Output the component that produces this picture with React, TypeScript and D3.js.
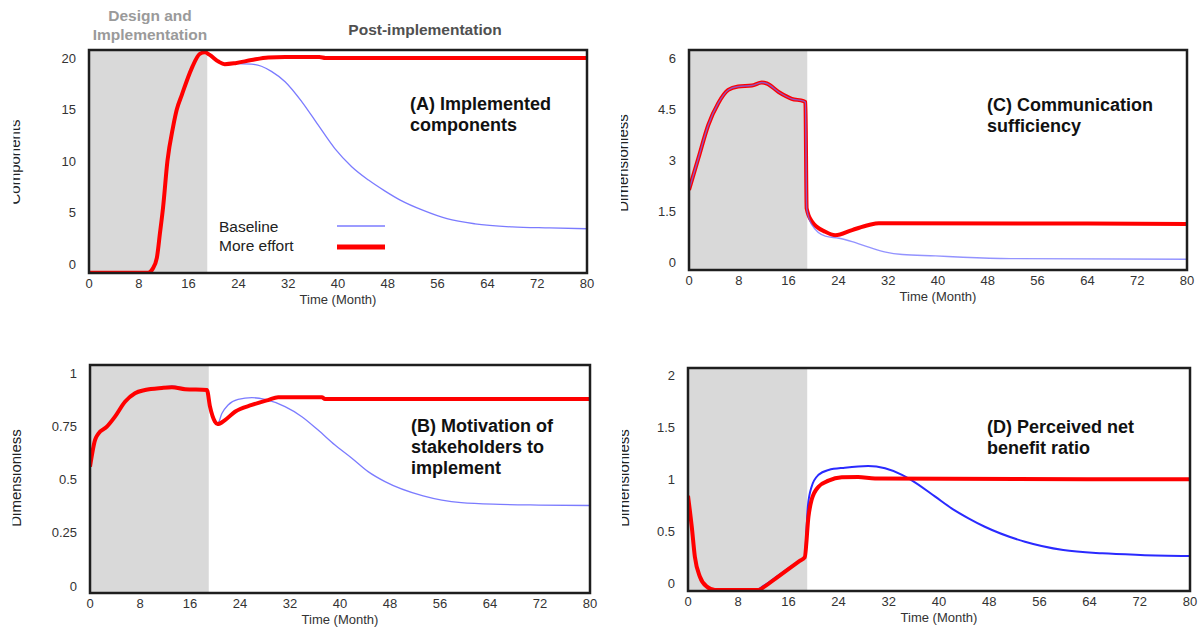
import { useEffect, useRef } from 'react';
import * as d3 from 'd3';

type Pt = [number, number];

// shared x axis
const monthTicks = [0, 8, 16, 24, 32, 40, 48, 56, 64, 72, 80];
const implementationEnd = 19;

// y tick labels per panel
const aTicks = [0, 5, 10, 15, 20];
const bTicks = [0, 0.25, 0.5, 0.75, 1];
const cTicks = [0, 1.5, 3, 4.5, 6];
const dTicks = [0, 0.5, 1, 1.5, 2];

// (A) Implemented components
const aMoreEffort: Pt[] = [
  [0, -0.85], [9.5, -0.85], [10.2, -0.5], [10.9, 0.6], [11.4, 3.0], [11.9, 5.5], [12.6, 10.0],
  [13.5, 13.3], [14.1, 15.0], [14.9, 16.4], [16.5, 19.0], [17.8, 20.4], [18.6, 20.55], [19.4, 20.3],
  [20.8, 19.65], [21.8, 19.4], [23.5, 19.5], [26.1, 19.8], [28.8, 20.05], [31.5, 20.1], [37, 20.1],
  [38, 20.0], [80, 20.0],
];
const aBaseline: Pt[] = [
  [0, -0.85], [9.5, -0.85], [10.2, -0.5], [10.9, 0.6], [11.4, 3.0], [11.9, 5.5], [12.6, 10.0],
  [13.5, 13.3], [14.1, 15.0], [14.9, 16.4], [16.5, 19.0], [17.8, 20.4], [18.6, 20.55], [19.4, 20.3],
  [20.8, 19.65], [21.8, 19.4], [23.5, 19.45], [26.1, 19.4], [27.7, 19.2], [29.3, 18.7], [31.5, 17.7],
  [34.2, 15.75], [36.8, 13.5], [39.5, 11.2], [42.2, 9.45], [44.9, 8.15], [47.5, 7.1], [50, 6.2],
  [53.7, 5.2], [57.5, 4.4], [62, 3.9], [68, 3.6], [74, 3.5], [80, 3.42],
];

// (B) Motivation of stakeholders to implement
const bMoreEffort: Pt[] = [
  [0, 0.56], [0.8, 0.685], [1.3, 0.714], [2.7, 0.748], [4.0, 0.795], [5.6, 0.865], [7.2, 0.905],
  [8.8, 0.92], [11.5, 0.93], [13.1, 0.933], [15.2, 0.924], [18.7, 0.92], [19.2, 0.842], [20.0, 0.771],
  [20.4, 0.76], [21.6, 0.779], [23.2, 0.818], [25.9, 0.85], [28.5, 0.873], [30.1, 0.886], [37.1, 0.886],
  [37.6, 0.878], [80, 0.878],
];
const bBaseline: Pt[] = [
  [0, 0.56], [0.8, 0.685], [1.3, 0.714], [2.7, 0.748], [4.0, 0.795], [5.6, 0.865], [7.2, 0.905],
  [8.8, 0.922], [11.5, 0.932], [13.1, 0.94], [15.2, 0.928], [18.7, 0.92], [19.2, 0.842], [20.0, 0.771],
  [20.4, 0.76], [21.1, 0.81], [22.1, 0.85], [23.7, 0.876], [25.9, 0.884], [28, 0.876], [31.2, 0.842],
  [33.9, 0.795], [36.5, 0.732], [39.2, 0.662], [41.9, 0.6], [44.5, 0.537], [47.2, 0.49], [53.3, 0.423],
  [59.4, 0.391], [65.6, 0.383], [71.8, 0.38], [80, 0.378],
];

// (C) Communication sufficiency
const cMoreEffort: Pt[] = [
  [0, 2.12], [1.5, 3.05], [3.1, 4.03], [4.7, 4.67], [6.3, 5.06], [7.9, 5.16], [10.1, 5.19],
  [11.7, 5.28], [12.5, 5.25], [14.4, 5.0], [16.5, 4.8], [18.4, 4.73], [18.7, 4.7], [18.9, 1.58],
  [19.75, 1.19], [21.9, 0.89], [23.5, 0.79], [26.2, 0.94], [28.9, 1.09], [30.5, 1.14], [80, 1.12],
];
const cBaseline: Pt[] = [
  [0, 2.12], [1.5, 3.05], [3.1, 4.03], [4.7, 4.67], [6.3, 5.06], [7.9, 5.16], [10.1, 5.19],
  [11.7, 5.28], [12.5, 5.25], [14.4, 5.0], [16.5, 4.8], [18.4, 4.73], [18.7, 4.7], [18.9, 1.58],
  [19.75, 1.09], [21.9, 0.76], [24.1, 0.7], [26.2, 0.6], [29.0, 0.43], [31.6, 0.29], [34.3, 0.22],
  [39.6, 0.18], [44, 0.14], [51.7, 0.1], [80, 0.08],
];

// (D) Perceived net benefit ratio
const dMoreEffort: Pt[] = [
  [0, 0.84], [0.6, 0.54], [1.1, 0.25], [1.9, 0.06], [3.0, -0.035], [4.3, -0.067], [11.2, -0.067],
  [12.3, -0.03], [14.0, 0.045], [16.0, 0.133], [17.8, 0.212], [18.6, 0.247], [19.2, 0.64], [19.7, 0.8],
  [20.8, 0.926], [22.4, 0.984], [24.5, 1.016], [27.1, 1.02], [29.8, 1.006], [80, 0.997],
];
const dBaseline: Pt[] = [
  [0, 0.84], [0.6, 0.54], [1.1, 0.25], [1.9, 0.06], [3.0, -0.035], [4.3, -0.067], [10.9, -0.067],
  [12.0, -0.03], [14.0, 0.055], [16.0, 0.14], [17.8, 0.215], [18.6, 0.25], [19.1, 0.734], [19.7, 0.926],
  [20.8, 1.04], [22.4, 1.087], [25.0, 1.109], [28.7, 1.125], [31.4, 1.103], [34.1, 1.04], [35.6, 0.99],
  [39.4, 0.83], [42.0, 0.718], [44.7, 0.622], [47.3, 0.541], [53.7, 0.397], [59.8, 0.317], [66.0, 0.285],
  [72.1, 0.27], [80, 0.26],
];

const FONT = "'Liberation Sans', Arial, sans-serif";

const panels = [
  {
    id: 'a', baseline: aBaseline, effort: aMoreEffort, ticks: aTicks,
    x0: 89, x1: 587, zeroY: 264, topY: 58, frameTop: 50, frameBottom: 273,
    yLabel: 'Components', yLabelX: 20, yLabelClip: 13.5, yLabelCy: 162,
    title: ['(A) Implemented', 'components'], titleX: 410, titleY: 110,
    blue: '#7b7bff', blueWidth: 1.3, blueOnTop: false, legend: true,
  },
  {
    id: 'c', baseline: cBaseline, effort: cMoreEffort, ticks: cTicks,
    x0: 689, x1: 1187, zeroY: 262, topY: 58, frameTop: 50, frameBottom: 270,
    yLabel: 'Dimensionless', yLabelX: 628, yLabelClip: 621, yLabelCy: 163,
    title: ['(C) Communication', 'sufficiency'], titleX: 987, titleY: 111,
    blue: '#6f6fff', blueWidth: 1.4, blueOnTop: true, legend: false,
  },
  {
    id: 'b', baseline: bBaseline, effort: bMoreEffort, ticks: bTicks,
    x0: 90, x1: 590, zeroY: 586, topY: 373, frameTop: 365, frameBottom: 593,
    yLabel: 'Dimensionless', yLabelX: 21, yLabelClip: 12.5, yLabelCy: 478,
    title: ['(B) Motivation of', 'stakeholders to', 'implement'], titleX: 411, titleY: 432,
    blue: '#7b7bff', blueWidth: 1.3, blueOnTop: false, legend: false,
  },
  {
    id: 'd', baseline: dBaseline, effort: dMoreEffort, ticks: dTicks,
    x0: 688, x1: 1190, zeroY: 583, topY: 375, frameTop: 368, frameBottom: 591,
    yLabel: 'Dimensionless', yLabelX: 629, yLabelClip: 622, yLabelCy: 478,
    title: ['(D) Perceived net', 'benefit ratio'], titleX: 987, titleY: 433,
    blue: '#2a2aff', blueWidth: 2, blueOnTop: false, legend: false,
  },
];

export default function App() {
  const svgRef = useRef<SVGSVGElement>(null);

  useEffect(() => {
    if (!svgRef.current) return;
    const svg = d3.select(svgRef.current);
    svg.selectAll('*').remove();
    const defs = svg.append('defs');

    svg.append('rect').attr('width', 1202).attr('height', 631).attr('fill', '#fff');

    // phase headings
    svg.append('text')
      .attr('x', 150).attr('y', 21)
      .attr('text-anchor', 'middle')
      .style('font', `bold 15.5px ${FONT}`)
      .attr('fill', '#9a9a9a')
      .text('Design and');
    svg.append('text')
      .attr('x', 150).attr('y', 40)
      .attr('text-anchor', 'middle')
      .style('font', `bold 15.5px ${FONT}`)
      .attr('fill', '#9a9a9a')
      .text('Implementation');
    svg.append('text')
      .attr('x', 425).attr('y', 35)
      .attr('text-anchor', 'middle')
      .style('font', `bold 15.5px ${FONT}`)
      .attr('fill', '#505050')
      .text('Post-implementation');

    panels.forEach(p => {
      const x = d3.scaleLinear().domain([0, 80]).range([p.x0, p.x1]);
      const y = d3.scaleLinear()
        .domain([0, p.ticks[p.ticks.length - 1]])
        .range([p.zeroY, p.topY]);

      const g = svg.append('g');

      defs.append('clipPath').attr('id', `plot-${p.id}`)
        .append('rect')
        .attr('x', p.x0).attr('y', p.frameTop)
        .attr('width', p.x1 - p.x0).attr('height', p.frameBottom - p.frameTop);

      // implementation phase shading
      g.append('rect')
        .attr('x', p.x0).attr('y', p.frameTop)
        .attr('width', x(implementationEnd) - p.x0)
        .attr('height', p.frameBottom - p.frameTop)
        .attr('fill', '#d9d9d9');

      const line = d3.line<Pt>()
        .x(d => x(d[0]))
        .y(d => y(d[1]))
        .curve(d3.curveMonotoneX);

      const lines = g.append('g').attr('clip-path', `url(#plot-${p.id})`);
      const drawBlue = (op: number) => lines.append('path')
        .datum(p.baseline)
        .attr('d', line)
        .attr('fill', 'none')
        .attr('stroke', p.blue)
        .attr('stroke-opacity', op)
        .attr('stroke-width', p.blueWidth);
      const drawRed = () => lines.append('path')
        .datum(p.effort)
        .attr('d', line)
        .attr('fill', 'none')
        .attr('stroke', '#ff0000')
        .attr('stroke-width', 4)
        .attr('stroke-linejoin', 'round');

      if (p.blueOnTop) {
        drawRed();
        drawBlue(0.75);
      } else {
        drawBlue(1);
        drawRed();
      }

      // frame
      g.append('rect')
        .attr('x', p.x0).attr('y', p.frameTop)
        .attr('width', p.x1 - p.x0).attr('height', p.frameBottom - p.frameTop)
        .attr('fill', 'none')
        .attr('stroke', '#1e1e1e')
        .attr('stroke-width', 2.5);

      // y tick labels
      g.selectAll('.ytick')
        .data(p.ticks)
        .enter()
        .append('text')
        .attr('x', p.x0 - 13)
        .attr('y', d => y(d))
        .attr('dy', '0.35em')
        .attr('text-anchor', 'end')
        .style('font', `13px ${FONT}`)
        .attr('fill', '#333')
        .text(d => String(d));

      // x tick labels
      g.selectAll('.xtick')
        .data(monthTicks)
        .enter()
        .append('text')
        .attr('x', d => x(d))
        .attr('y', p.frameBottom + 15)
        .attr('text-anchor', 'middle')
        .style('font', `13px ${FONT}`)
        .attr('fill', '#333')
        .text(d => String(d));

      g.append('text')
        .attr('x', (p.x0 + p.x1) / 2)
        .attr('y', p.frameBottom + 31)
        .attr('text-anchor', 'middle')
        .style('font', `13px ${FONT}`)
        .attr('fill', '#333')
        .text('Time (Month)');

      // y axis label, cropped at the left like the source image
      defs.append('clipPath').attr('id', `ylab-${p.id}`)
        .append('rect')
        .attr('x', p.yLabelClip).attr('y', p.yLabelCy - 80)
        .attr('width', 30).attr('height', 160);
      g.append('g')
        .attr('clip-path', `url(#ylab-${p.id})`)
        .append('text')
        .attr('transform', `translate(${p.yLabelX},${p.yLabelCy}) rotate(-90)`)
        .attr('text-anchor', 'middle')
        .style('font', `15px ${FONT}`)
        .attr('fill', '#222')
        .text(p.yLabel);

      // panel title
      p.title.forEach((t, i) => {
        g.append('text')
          .attr('x', p.titleX)
          .attr('y', p.titleY + i * 21)
          .style('font', `bold 18px ${FONT}`)
          .attr('fill', '#111')
          .text(t);
      });

      if (p.legend) {
        const leg = g.append('g');
        leg.append('text')
          .attr('x', 219).attr('y', 232)
          .style('font', `15.5px ${FONT}`)
          .attr('fill', '#222')
          .text('Baseline');
        leg.append('text')
          .attr('x', 219).attr('y', 251)
          .style('font', `15.5px ${FONT}`)
          .attr('fill', '#222')
          .text('More effort');
        leg.append('line')
          .attr('x1', 337).attr('x2', 385)
          .attr('y1', 226).attr('y2', 226)
          .attr('stroke', p.blue).attr('stroke-width', 1.6);
        leg.append('line')
          .attr('x1', 337).attr('x2', 385)
          .attr('y1', 247).attr('y2', 247)
          .attr('stroke', '#ff0000').attr('stroke-width', 5);
      }
    });
  }, []);

  return (
    <svg
      ref={svgRef}
      width={1202}
      height={631}
      style={{ position: 'absolute', left: 0, top: 0, display: 'block' }}
    />
  );
}
